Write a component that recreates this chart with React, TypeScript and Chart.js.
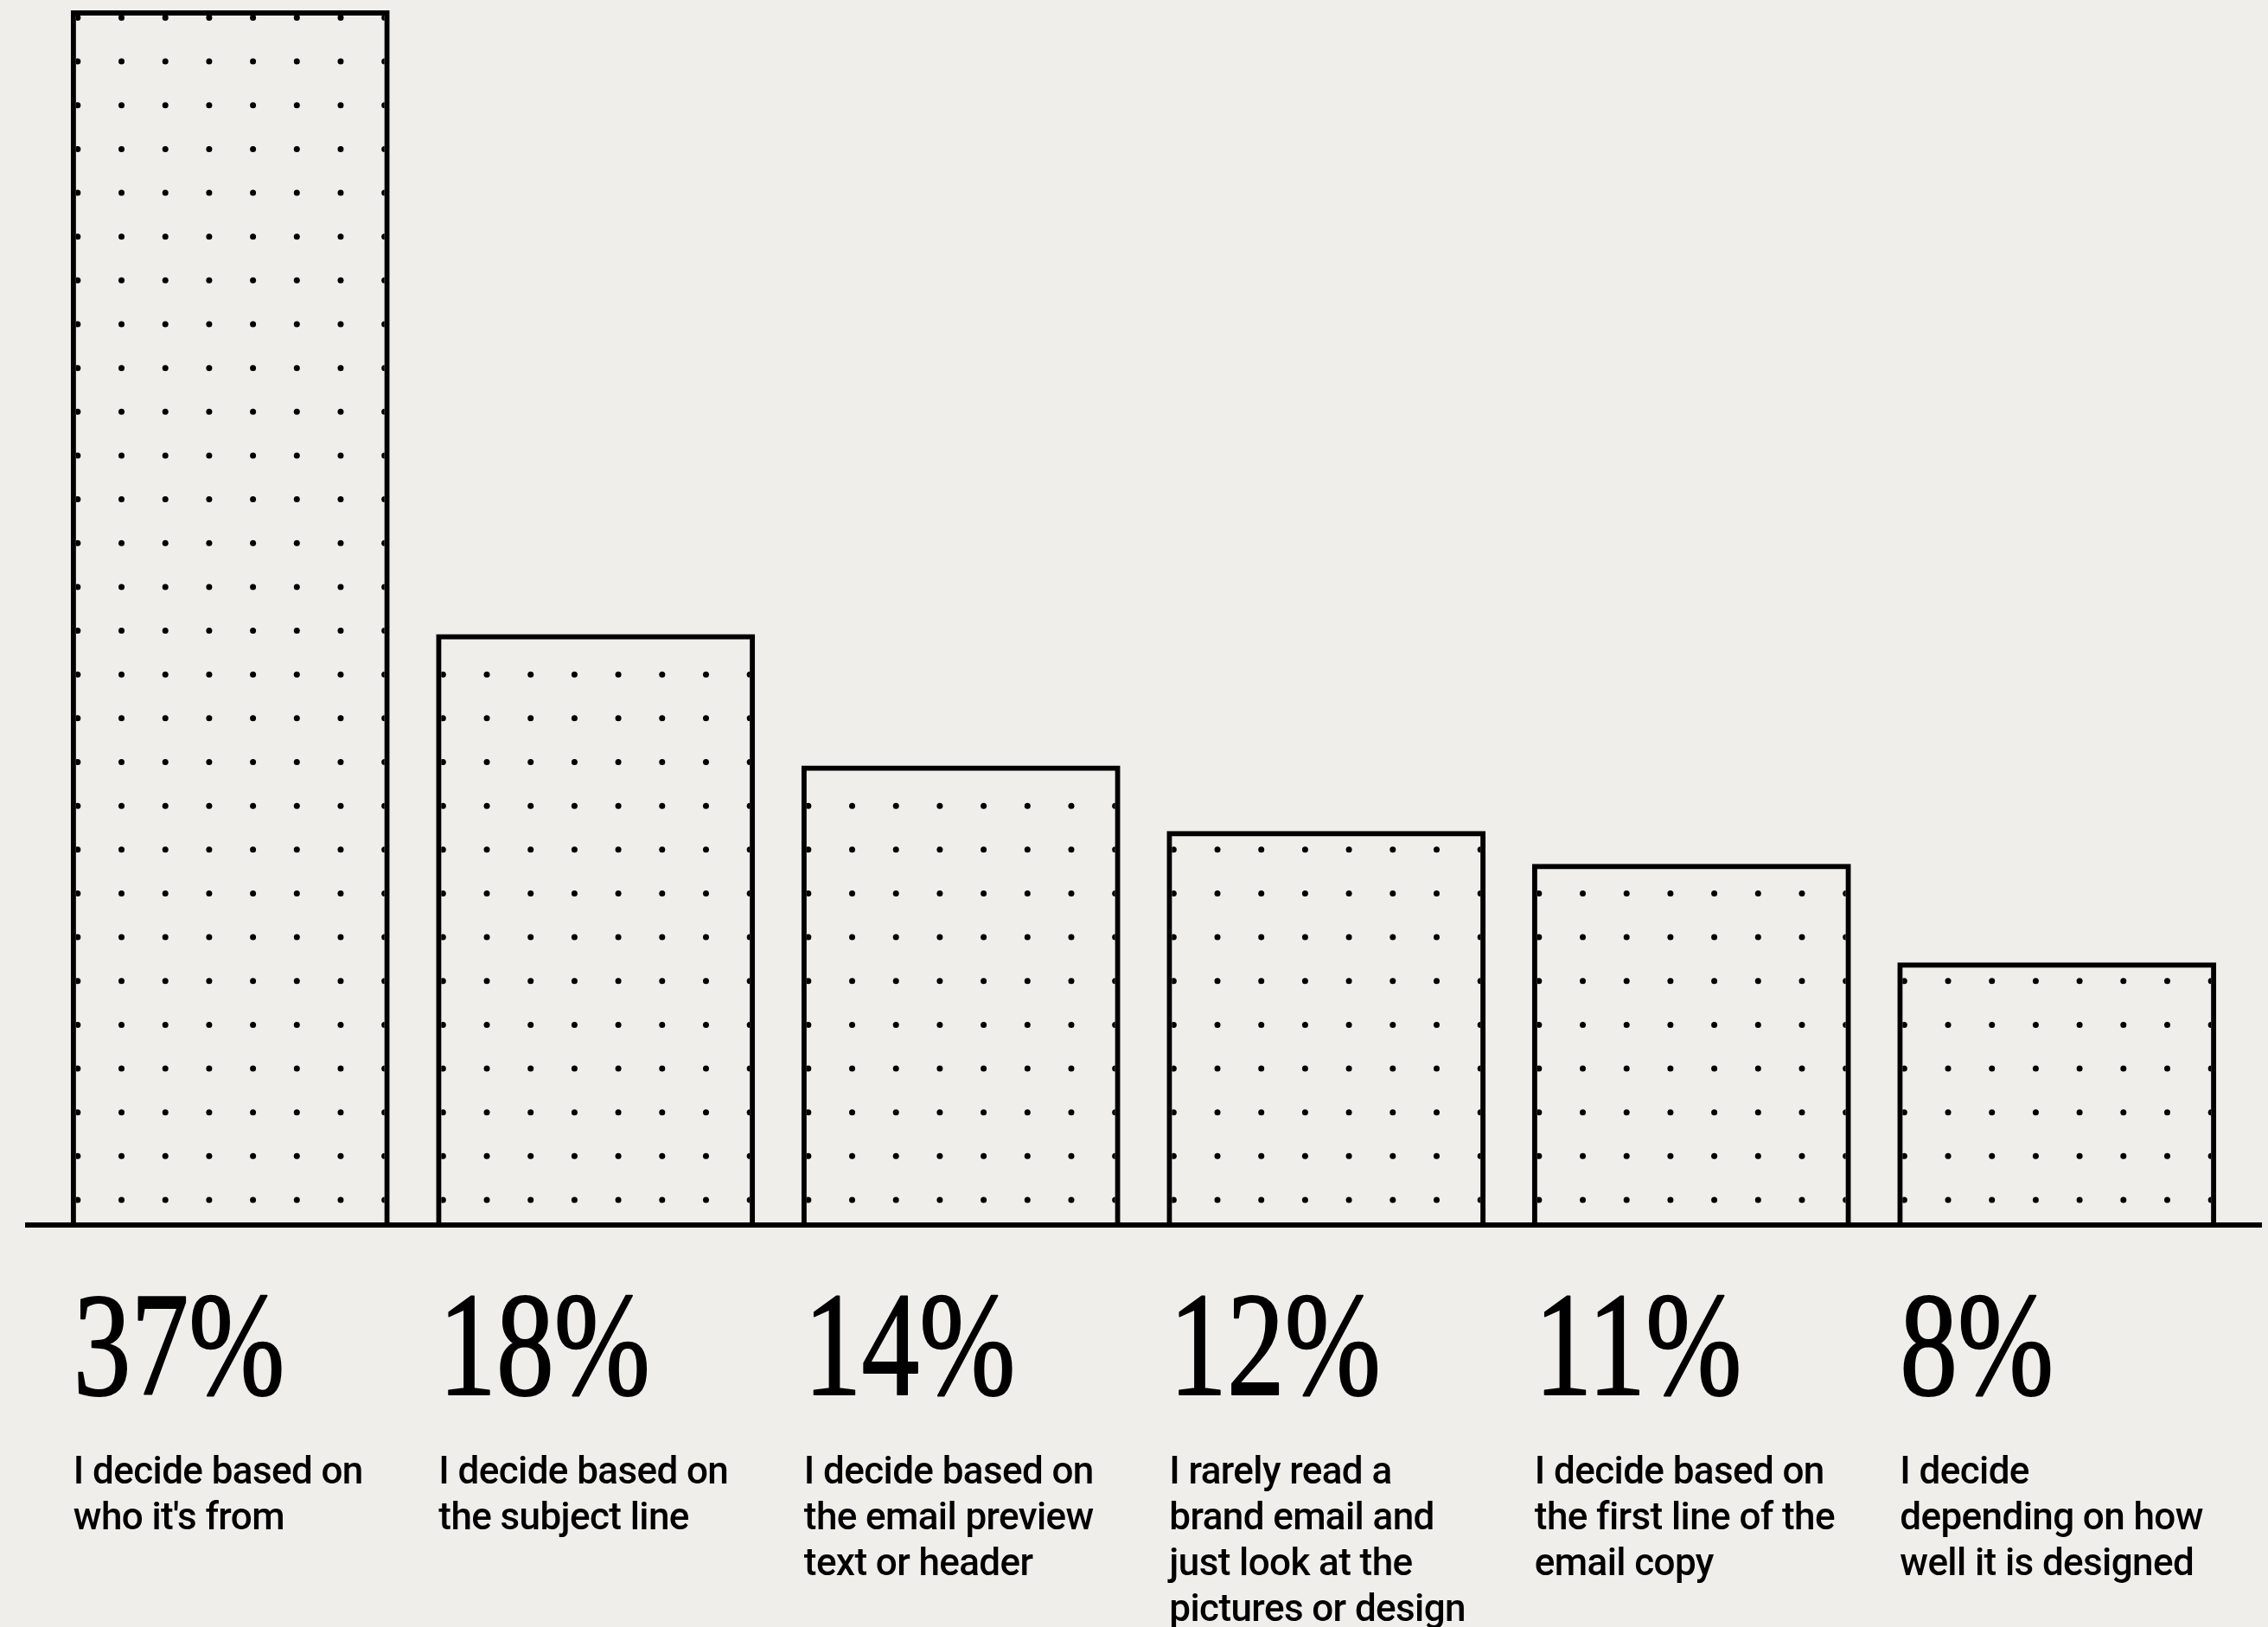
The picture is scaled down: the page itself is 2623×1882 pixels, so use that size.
import React, { useEffect, useRef } from "react";
import { Chart, registerables } from "chart.js";

Chart.register(...registerables);

const categories = [
  "I decide based on who it's from",
  "I decide based on the subject line",
  "I decide based on the email preview text or header",
  "I rarely read a brand email and just look at the pictures or design",
  "I decide based on the first line of the email copy",
  "I decide depending on how well it is designed",
];

const descriptionLines = [
  ["I decide based on", "who it's from"],
  ["I decide based on", "the subject line"],
  ["I decide based on", "the email preview", "text or header"],
  ["I rarely read a", "brand email and", "just look at the", "pictures or design"],
  ["I decide based on", "the first line of the", "email copy"],
  ["I decide", "depending on how", "well it is designed"],
];

const values = [37, 18, 14, 12, 11, 8];
const percentLabels = ["37%", "18%", "14%", "12%", "11%", "8%"];

const BG = "#efeeea";
const INK = "#000000";
const BORDER_W = 6;

const dotsPlugin = {
  id: "dotsFill",
  afterDatasetsDraw(chart: any) {
    const ctx = chart.ctx;
    const meta = chart.getDatasetMeta(0);
    const base = chart.scales.y.getPixelForValue(0);
    const vStep = 50.65;
    ctx.save();
    ctx.fillStyle = INK;
    meta.data.forEach((bar: any) => {
      const { x, y, width } = bar.getProps(["x", "y", "width"], true);
      const left = x - width / 2;
      ctx.save();
      ctx.beginPath();
      ctx.rect(left + BORDER_W, y + BORDER_W, width - 2 * BORDER_W, base - y - BORDER_W);
      ctx.clip();
      const hStep = (width - 14) / 7;
      for (let yy = base - 29; yy > y; yy -= vStep) {
        for (let i = 0; i < 8; i++) {
          ctx.beginPath();
          ctx.arc(left + 8 + i * hStep, yy, 3.5, 0, Math.PI * 2);
          ctx.fill();
        }
      }
      ctx.restore();
    });
    ctx.restore();
  },
};

const axisAndLabelsPlugin = {
  id: "axisAndLabels",
  afterDraw(chart: any) {
    const ctx = chart.ctx;
    const area = chart.chartArea;
    const base = chart.scales.y.getPixelForValue(0);
    ctx.save();
    ctx.fillStyle = INK;
    ctx.fillRect(area.left - 26, base - 3, area.right - area.left + 52, 6);

    const meta = chart.getDatasetMeta(0);
    meta.data.forEach((bar: any, i: number) => {
      const { x, width } = bar.getProps(["x", "width"], true);
      const left = x - width / 2 + 3;
      // percentage
      ctx.save();
      ctx.translate(left, base + 196);
      ctx.scale(0.775, 1);
      ctx.font = '172px "Liberation Serif"';
      ctx.textAlign = "left";
      ctx.textBaseline = "alphabetic";
      ctx.fillStyle = INK;
      ctx.strokeStyle = INK;
      ctx.lineWidth = 2;
      ctx.lineJoin = "round";
      ctx.fillText(percentLabels[i], 0, 0);
      ctx.strokeText(percentLabels[i], 0, 0);
      ctx.restore();
      // description
      ctx.save();
      ctx.font = '500 44px Roboto';
      try {
        (ctx as any).letterSpacing = "-0.6px";
      } catch (e) {}
      ctx.textAlign = "left";
      ctx.textBaseline = "alphabetic";
      ctx.fillStyle = INK;
      descriptionLines[i].forEach((line, j) => {
        ctx.fillText(line, left, base + 299 + j * 53);
      });
      ctx.restore();
    });
    ctx.restore();
  },
};

export default function App() {
  const canvasRef = useRef<HTMLCanvasElement | null>(null);

  useEffect(() => {
    if (!canvasRef.current) return;
    const chart = new Chart(canvasRef.current, {
      type: "bar",
      data: {
        labels: categories,
        datasets: [
          {
            data: values,
            backgroundColor: "rgba(0,0,0,0)",
            borderColor: INK,
            borderWidth: BORDER_W,
            borderSkipped: "bottom",
            barPercentage: 0.873,
            categoryPercentage: 1,
          },
        ],
      },
      options: {
        responsive: false,
        animation: false,
        devicePixelRatio: 1,
        layout: { padding: { left: 55, right: 33, top: 12, bottom: 465 } },
        plugins: {
          legend: { display: false },
          tooltip: { enabled: false },
          title: { display: false },
        },
        scales: {
          x: {
            display: false,
            offset: true,
            grid: { display: false },
          },
          y: {
            display: false,
            min: 0,
            max: 37,
            grid: { display: false },
          },
        },
      },
      plugins: [dotsPlugin, axisAndLabelsPlugin],
    });
    return () => chart.destroy();
  }, []);

  return (
    <div
      style={{
        position: "fixed",
        left: 0,
        top: 0,
        width: 2623,
        height: 1882,
        background: BG,
        overflow: "hidden",
      }}
    >
      <canvas
        ref={canvasRef}
        width={2623}
        height={1882}
        style={{ display: "block", width: 2623, height: 1882 }}
      />
    </div>
  );
}
